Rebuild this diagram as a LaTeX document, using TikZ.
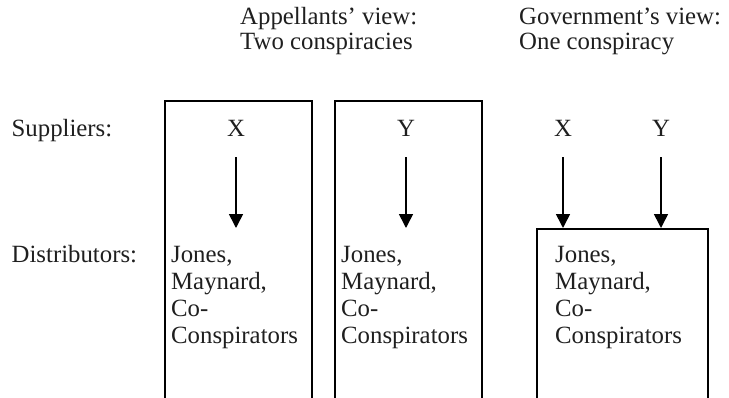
\documentclass[tikz,border=0pt]{standalone}
\usepackage{fontspec}
\setmainfont{Liberation Serif}
\usetikzlibrary{arrows.meta}
\begin{document}
\begin{tikzpicture}[x=1pt,y=-1pt,
  txt/.style={font=\fontsize{24.8}{27.3}\selectfont, inner sep=0pt, text=black!88},
  lbl/.style={txt, anchor=base west},
  sup/.style={txt, anchor=base},
  dist/.style={txt, anchor=base west, align=left},
  box/.style={draw, line width=1.8pt, rectangle, inner sep=0pt, anchor=north west},
  flow/.style={line width=1.6pt, shorten <=21pt, -{Triangle[width=14pt,length=14pt]}}]
\useasboundingbox (0,0) rectangle (729,397);
\clip (0,0) rectangle (729,397);
% headers
\node[lbl] (h1a) at (240,24) {Appellants’ view:};
\node[lbl] (h1b) at (240,49) {Two conspiracies};
\node[lbl] (h2a) at (519,24) {Government’s view:};
\node[lbl] (h2b) at (519,49) {One conspiracy};
% row labels
\node[lbl] (sl) at (11.5,136.5) {Suppliers:};
\node[lbl] (dl) at (11.5,262) {Distributors:};
% boxes
\node[box, minimum width=147pt, minimum height=330pt] (b1) at (164,100) {};
\node[box, minimum width=147pt, minimum height=330pt] (b2) at (334,100) {};
\node[box, minimum width=171pt, minimum height=200pt] (b3) at (536,228) {};
% suppliers
\node[sup] (x1) at (236,136) {X};
\node[sup] (y2) at (406,136) {Y};
\node[sup] (x3) at (563,136) {X};
\node[sup] (y3) at (661,136) {Y};
% distributors (base anchor = last line's baseline)
\node[dist] (d1) at (171,343.9) {Jones,\\Maynard,\\Co-\\Conspirators};
\node[dist] (d2) at (341,343.9) {Jones,\\Maynard,\\Co-\\Conspirators};
\node[dist] (d3) at (555,343.9) {Jones,\\Maynard,\\Co-\\Conspirators};
% arrows
\draw[flow] (x1.south) -- (x1.south |- b3.north);
\draw[flow] (y2.south) -- (y2.south |- b3.north);
\draw[flow] (x3.south) -- (x3.south |- b3.north);
\draw[flow] (y3.south) -- (y3.south |- b3.north);
\end{tikzpicture}
\end{document}
